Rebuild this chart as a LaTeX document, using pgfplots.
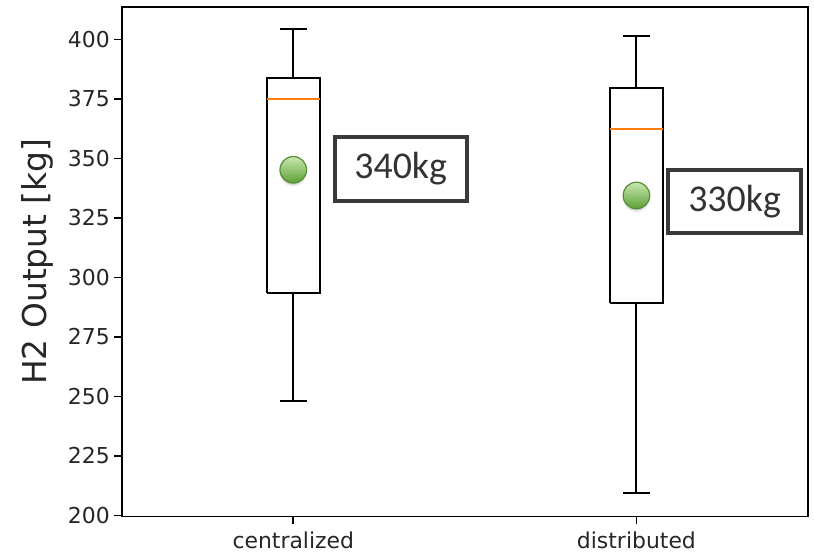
\documentclass[border=0pt]{standalone}
\usepackage{fontspec}
\setmainfont{DejaVu Sans}
\newfontfamily\calib{Carlito}
\usepackage{pgfplots}
\pgfplotsset{compat=1.18}
\definecolor{mplorange}{HTML}{FF7F0E}
\definecolor{boxgray}{HTML}{3A3A3A}
\definecolor{txtgray}{HTML}{333333}
\definecolor{balltop}{RGB}{200,232,178}
\definecolor{ballbot}{RGB}{92,160,52}
\definecolor{balledge}{RGB}{88,140,55}
\pgfdeclareplotmark{gball}{%
  \shade[top color=balltop, bottom color=ballbot, draw=balledge, line width=1.2bp] (0pt,0pt) circle (\pgfplotmarksize);}
\begin{document}
\begin{tikzpicture}
\begin{axis}[
  name=ax,
  scale only axis, width=686.3bp, height=509.8bp,
  xmin=0.5, xmax=2.5, ymin=199.6, ymax=413.7,
  xtick={1,2}, xticklabels={centralized,distributed},
  ytick={200,225,250,275,300,325,350,375,400},
  tick pos=left, tick align=outside, major tick length=7.4bp,
  every tick/.style={black, line width=1.6bp},
  axis line style={black, line width=1.7bp},
  /pgf/number format/assume math mode=true,
  ticklabel style={font=\fontsize{22}{26}\selectfont, text=black!85},
  yticklabel style={xshift=-1bp},
  xticklabel style={yshift=-4.5bp},
  ylabel={H2 Output [kg]},
  every axis y label/.style={at={(axis description cs:-0.1234,0.5)}, rotate=90, anchor=center, font=\fontsize{33}{38}\selectfont, text=black!85},
  clip=false,
]
% box 1: whiskers 248.1/404.2, quartiles 293.5/383.7, median 375.1
\addplot[black, line width=2bp] coordinates {(0.9225,293.5) (1.0775,293.5) (1.0775,383.7) (0.9225,383.7) (0.9225,293.5)};
\addplot[black, line width=2bp] coordinates {(1,293.5) (1,248.1)};
\addplot[black, line width=2bp] coordinates {(1,383.7) (1,404.2)};
\addplot[black, line width=2bp] coordinates {(0.961,248.1) (1.039,248.1)};
\addplot[black, line width=2bp] coordinates {(0.961,404.2) (1.039,404.2)};
\addplot[mplorange, line width=2bp] coordinates {(0.9225,375.1) (1.0775,375.1)};
% box 2: whiskers 209.3/401.4, quartiles 289.4/379.7, median 362.4
\addplot[black, line width=2bp] coordinates {(1.9225,289.4) (2.0775,289.4) (2.0775,379.7) (1.9225,379.7) (1.9225,289.4)};
\addplot[black, line width=2bp] coordinates {(2,289.4) (2,209.3)};
\addplot[black, line width=2bp] coordinates {(2,379.7) (2,401.4)};
\addplot[black, line width=2bp] coordinates {(1.961,209.3) (2.039,209.3)};
\addplot[black, line width=2bp] coordinates {(1.961,401.4) (2.039,401.4)};
\addplot[mplorange, line width=2bp] coordinates {(1.9225,362.4) (2.0775,362.4)};
% soft shadow of mean markers
\addplot[only marks, mark=*, mark size=13bp, mark options={fill=black, draw=none, opacity=0.06, yshift=-3.5bp}] coordinates {(1,345.2) (2,334.4)};
\addplot[only marks, mark=*, mark size=12bp, mark options={fill=black, draw=none, opacity=0.08, yshift=-3bp}] coordinates {(1,345.2) (2,334.4)};
% mean markers
\addplot[only marks, mark=gball, mark size=13.3bp] coordinates {(1,345.2) (2,334.4)};
% annotation boxes
\node[draw=boxgray, line width=4bp, minimum width=132bp, minimum height=64bp, inner sep=0pt, text=txtgray, font=\calib\fontsize{38}{42}\selectfont] at (axis cs:1.313,345.6) {340kg};
\node[draw=boxgray, line width=4bp, minimum width=133bp, minimum height=63bp, inner sep=0pt, text=txtgray, font=\calib\fontsize{38}{42}\selectfont] at (axis cs:2.286,332.0) {330kg};
\end{axis}
\path (ax.south west) ++(-121.7bp,-40.5bp) rectangle ++(814bp,557bp);
\end{tikzpicture}
\end{document}
